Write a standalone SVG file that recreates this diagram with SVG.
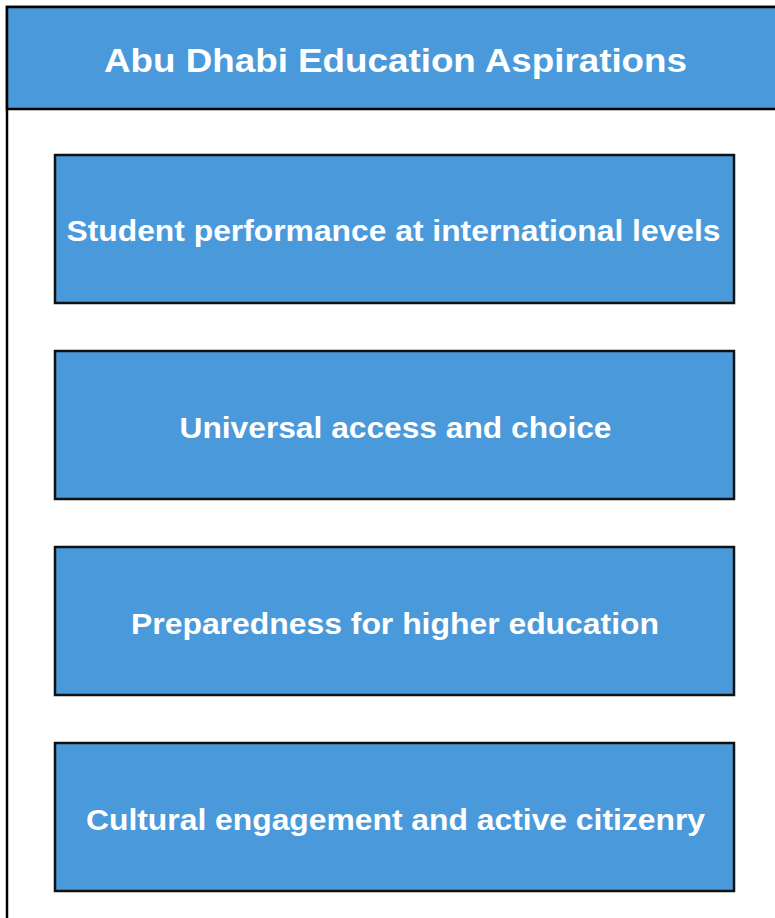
<svg xmlns="http://www.w3.org/2000/svg" width="775" height="918" viewBox="0 0 775 918">
<style>
.frame{fill:#ffffff;stroke:#000000;stroke-width:2.5}
.head{fill:#4a9adb;stroke:#000000;stroke-width:2.5}
.box{fill:#4a9adb;stroke:#111111;stroke-width:2.5}
.t{font-family:"Liberation Sans",Arial,sans-serif;font-weight:bold;fill:#ffffff;text-anchor:middle}
</style>
<rect width="775" height="918" fill="#ffffff"/>
<g id="container">
<rect class="frame" x="7" y="7" width="790" height="930"/>
<rect class="head" x="7" y="7" width="790" height="102"/>
<text class="t" x="395.5" y="72" font-size="33" textLength="583" lengthAdjust="spacingAndGlyphs">Abu Dhabi Education Aspirations</text>
</g>
<g id="node1">
<rect class="box" x="55" y="155" width="679" height="148"/>
<text class="t" x="393.5" y="241" font-size="29" textLength="654" lengthAdjust="spacingAndGlyphs">Student performance at international levels</text>
</g>
<g id="node2">
<rect class="box" x="55" y="351" width="679" height="148"/>
<text class="t" x="395.5" y="438" font-size="29" textLength="432" lengthAdjust="spacingAndGlyphs">Universal access and choice</text>
</g>
<g id="node3">
<rect class="box" x="55" y="547" width="679" height="148"/>
<text class="t" x="395" y="634" font-size="29" textLength="528" lengthAdjust="spacingAndGlyphs">Preparedness for higher education</text>
</g>
<g id="node4">
<rect class="box" x="55" y="743" width="679" height="148"/>
<text class="t" x="395.5" y="830" font-size="29" textLength="619" lengthAdjust="spacingAndGlyphs">Cultural engagement and active citizenry</text>
</g>
<g id="connectors"></g>
</svg>
